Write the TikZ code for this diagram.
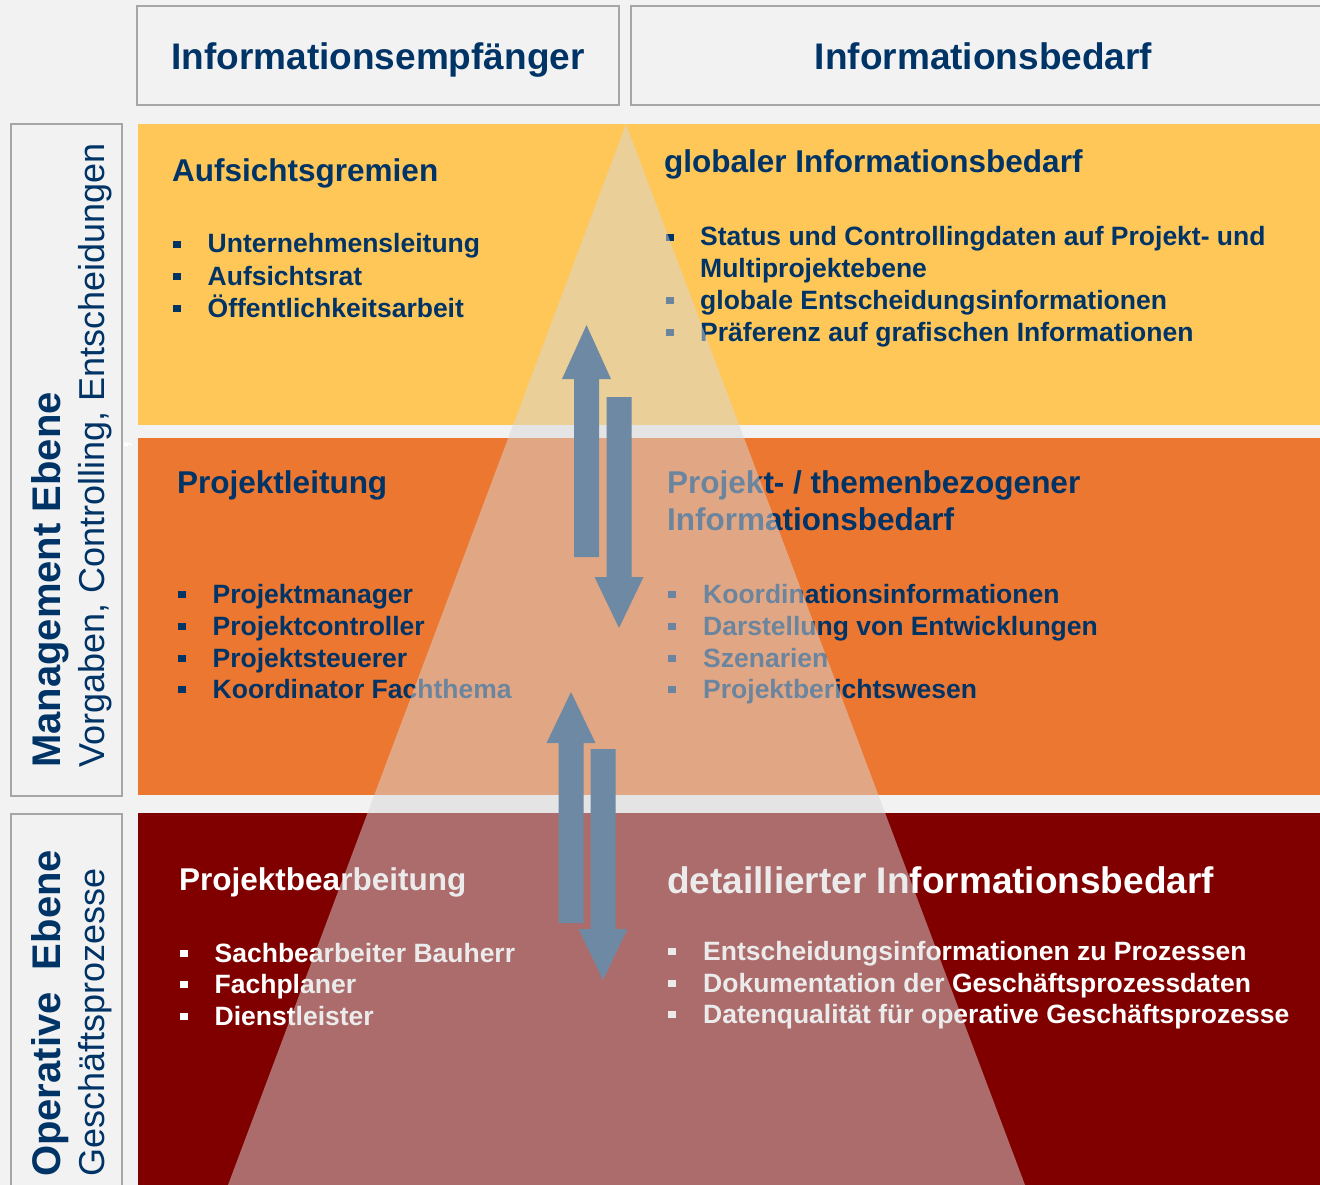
\documentclass[tikz,border=0pt]{standalone}
\usepackage{fontspec}
\setmainfont{Liberation Sans}
\definecolor{navy}{RGB}{0,51,102}
\definecolor{paper}{RGB}{242,242,242}
\definecolor{frame}{RGB}{166,166,166}
\definecolor{sun}{RGB}{255,198,88}
\definecolor{amber}{RGB}{236,119,49}
\definecolor{wine}{RGB}{128,0,0}
\definecolor{steel}{RGB}{110,137,163}
\definecolor{veil}{RGB}{216,216,216}
\tikzset{
  band/.style={rectangle, inner sep=0, minimum width=1182pt, anchor=north west},
  frm/.style={rectangle, draw=frame, line width=2pt, inner sep=0},
  head/.style={frm, font=\fontsize{37}{44}\selectfont\bfseries, text=navy, text height=27pt, text depth=0pt, minimum height=99pt},
  side/.style={rotate=90, anchor=base west, inner sep=0, text=navy},
  title/.style={anchor=base west, inner sep=0, font=\fontsize{31.5}{38}\selectfont\bfseries},
  item/.style={anchor=base west, inner sep=0, font=\fontsize{26.5}{32}\selectfont\bfseries},
  sq/.style={rectangle, inner sep=0, minimum width=8pt, minimum height=7pt},
  flow/.style={fill=steel},
}

\begin{document}
\begin{tikzpicture}[x=1pt, y=-1pt]
    \useasboundingbox (0,0) rectangle (1320,1185);
    \fill[paper] (0,0) rectangle (1320,1185);

    % Headers
    \node[head, minimum width=482pt] (hdLeft) at (378,56) {Informationsempfänger};
    \node[head, minimum width=705pt] (hdRight) at (983.5,56) {Informationsbedarf};

    % Side labels
    \node[frm, anchor=north west, minimum width=111pt, minimum height=672pt] (boxMgmt) at (10,123) {};
    \node[frm, anchor=north west, minimum width=111pt, minimum height=400pt] (boxOp) at (10,813) {};
    \node[side, font=\fontsize{40}{48}\selectfont\bfseries] (lblMgmt) at (60,768) {Management Ebene};
    \node[side, font=\fontsize{36}{42}\selectfont] (subMgmt) at (104,768) {Vorgaben, Controlling, Entscheidungen};
    \node[side, font=\fontsize{40}{48}\selectfont\bfseries] (lblOp) at (60,1177) {Operative~ Ebene};
    \node[side, font=\fontsize{36}{42}\selectfont] (subOp) at (104,1177) {Geschäftsprozesse};
    \node[rotate=90, inner sep=0, text=white, font=\fontsize{26}{30}\selectfont\bfseries] (stray) at (128,445) {,};

    % Bands
    \node[band, fill=sun, minimum height=301pt] (bandTop) at (138,124) {};
    \node[band, fill=amber, minimum height=357pt] (bandMid) at (138,438) {};
    \node[band, fill=wine, minimum height=380pt] (bandBot) at (138,813) {};

    % Top band
    \node[title, text=navy] (recTop) at (172,182) {Aufsichtsgremien};
    \foreach \i/\t in {0/Unternehmensleitung,1/Aufsichtsrat,2/Öffentlichkeitsarbeit} {
        \node[sq, fill=navy] (recTopB\i) at (177,244.5+32*\i) {};
        \node[item, text=navy] (recTop\i) at (207.5,253+32*\i) {\t};
    }
    \node[title, text=navy] (needTop) at (664,173) {globaler Informationsbedarf};
    \foreach \i/\y in {0/246,1/309,2/341} {
        \node[sq, fill=navy] (needTopB\i) at (670,\y-8.5) {};
    }
    \foreach \i/\y/\t in {0/246/Status und Controllingdaten auf Projekt- und,
            1/277.5/Multiprojektebene,
            2/309/globale Entscheidungsinformationen,
            3/341/Präferenz auf grafischen Informationen} {
        \node[item, text=navy] (needTop\i) at (700,\y) {\t};
    }

    % Middle band
    \node[title, text=navy] (recMid) at (177,493) {Projektleitung};
    \foreach \i/\y/\t in {0/603/Projektmanager,1/635/Projektcontroller,
            2/667/Projektsteuerer,3/698/Koordinator Fachthema} {
        \node[sq, fill=navy] (recMidB\i) at (182,\y-8.5) {};
        \node[item, text=navy] (recMid\i) at (212.5,\y) {\t};
    }
    \node[title, text=navy] (needMid) at (667,493) {Projekt- / themenbezogener};
    \node[title, text=navy] (needMidL) at (667,530) {Informationsbedarf};
    \foreach \i/\y/\t in {0/603/Koordinationsinformationen,1/635/Darstellung von Entwicklungen,
            2/667/Szenarien,3/698/Projektberichtswesen} {
        \node[sq, fill=navy] (needMidB\i) at (672,\y-8.5) {};
        \node[item, text=navy] (needMid\i) at (703,\y) {\t};
    }

    % Bottom band
    \node[title, text=white] (recBot) at (179,890) {Projektbearbeitung};
    \foreach \i/\y/\t in {0/962/Sachbearbeiter Bauherr,1/993/Fachplaner,2/1025/Dienstleister} {
        \node[sq, fill=white] (recBotB\i) at (184,\y-8.5) {};
        \node[item, text=white] (recBot\i) at (214.5,\y) {\t};
    }
    \node[title, text=white, font=\fontsize{37}{44}\selectfont\bfseries] (needBot) at (667,893) {detaillierter Informationsbedarf};
    \foreach \i/\y/\t in {0/960/Entscheidungsinformationen zu Prozessen,
            1/992/Dokumentation der Geschäftsprozessdaten,
            2/1023/Datenqualität für operative Geschäftsprozesse} {
        \node[sq, fill=white] (needBotB\i) at (672,\y-8.5) {};
        \node[item, text=white] (needBot\i) at (703,\y) {\t};
    }

    % Pyramid
    \fill[veil, fill opacity=0.5] (626,124) -- (228,1185) -- (1025,1185) -- cycle;

    % Arrows
    \foreach \cx/\ya/\yb/\yt in {586.5/557/379/325, 619/397/577/628,
            571/923/743/692, 603/749/929/980} {
        \fill[flow] (\cx-12.5,\ya) -- (\cx-12.5,\yb) -- (\cx-24.5,\yb) -- (\cx,\yt)
            -- (\cx+24.5,\yb) -- (\cx+12.5,\yb) -- (\cx+12.5,\ya) -- cycle;
    }
\end{tikzpicture}
\end{document}
